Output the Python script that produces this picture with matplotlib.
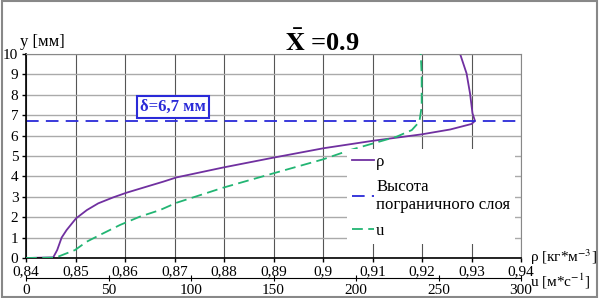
import numpy as np
import matplotlib.pyplot as plt
from matplotlib.ticker import FuncFormatter

plt.rcParams['font.family'] = ['Liberation Serif', 'DejaVu Serif']
plt.rcParams['mathtext.fontset'] = 'stix'

# density profile rho(y)
rho = [0.84, 0.8455, 0.8463, 0.8472, 0.8482, 0.8501, 0.8523, 0.8546, 0.8576, 0.8603,
       0.8644, 0.8677, 0.8704, 0.8799, 0.89, 0.9001, 0.9102, 0.9199, 0.9257, 0.93,
       0.9307, 0.9302, 0.9297, 0.929, 0.9277]
rho_y = [0, 0.03, 0.39, 1.0, 1.37, 1.94, 2.35, 2.68, 2.97, 3.2,
         3.5, 3.74, 3.95, 4.44, 4.92, 5.38, 5.75, 6.06, 6.3, 6.57,
         6.72, 7.09, 8.07, 9.05, 10.0]

# velocity profile u(y)
u = [0, 18, 29.7, 36.8, 44.8, 57, 69.1, 81.2, 91.3, 119.6, 149.9, 180.2, 196.4,
     210.5, 224.7, 233.8, 238.4, 239.8, 239.8, 239.2]
u_y = [0, 0.02, 0.39, 0.8, 1.13, 1.62, 2.03, 2.35, 2.71, 3.45, 4.15, 4.84, 5.29,
       5.62, 5.95, 6.27, 6.68, 7.42, 9.0, 10.0]

delta = 6.7
rho_ticks = np.arange(0.84, 0.9401, 0.01)
u_ticks = np.arange(0, 301, 50)
y_ticks = np.arange(0, 11, 1)

purple = '#7030a0'
green = '#22b573'
blue = '#2a2ad8'


def comma_fmt(v, pos):
    s = '%.2f' % v
    if s.endswith('0'):
        s = s[:-1]
    return s.replace('.', ',')


fig = plt.figure(figsize=(6, 2.98), dpi=100)
ax = fig.add_axes([26/600, 1 - 258/298, 495/600, 204/298])
ax.set_xlim(0.84, 0.94)
ax.set_ylim(0, 10)
ax.set_xticks(rho_ticks)
ax.set_yticks(y_ticks)
ax.xaxis.set_major_formatter(FuncFormatter(comma_fmt))
ax.tick_params(axis='both', labelsize=11, length=3, width=1, pad=2.5)
ax.grid(axis='x', color='#555555', lw=0.8)
ax.grid(axis='y', color='#aaaaaa', lw=1.0)
for s in ['top', 'right']:
    ax.spines[s].set_color('#888888')
for s in ['left', 'bottom']:
    ax.spines[s].set_linewidth(1.2)

ax.plot(rho, rho_y, color=purple, lw=1.3, label='ρ')
ax.axhline(delta, color=blue, lw=1.3, ls=(0, (7, 4)), label='Высота\nпограничного слоя')

ax2 = ax.twiny()
ax2.set_xlim(0, 300)
ax2.set_xticks(u_ticks)
ax2.xaxis.set_ticks_position('bottom')
ax2.xaxis.set_label_position('bottom')
ax2.spines['bottom'].set_position(('axes', -0.098))
for s in ['top', 'right', 'left']:
    ax2.spines[s].set_visible(False)
ax2.tick_params(axis='x', labelsize=11, direction='inout', length=5, pad=1.5)
ln_u, = ax2.plot(u, u_y, color=green, lw=1.3, ls=(0, (6, 3)), label='u')

h1, l1 = ax.get_legend_handles_labels()
leg = ax2.legend(h1 + [ln_u], l1 + ['u'], loc='lower right',
                 bbox_to_anchor=(1.005, 0.03), frameon=True, fontsize=12,
                 handlelength=1.3, handletextpad=0.15, labelspacing=0.55,
                 borderpad=0.3, fancybox=False)
leg.get_frame().set_edgecolor('none')
leg.get_frame().set_facecolor('white')
leg.get_frame().set_alpha(1)

ax.text(0.297, 0.74, 'δ=6,7 мм', transform=ax.transAxes, ha='center', va='center',
        fontsize=12, fontweight='bold', color=blue,
        bbox=dict(boxstyle='square,pad=0.2', fc='white', ec=blue, lw=1.5))

fig.text(20/600, 1 - 42/298, 'y [мм]', ha='left', va='center', fontsize=12)
fig.text(322/600, 1 - 43/298, r'$\mathbf{\bar{X}}$ =0.9', ha='center', va='center',
         fontsize=19, fontweight='bold')
fig.text(530/600, 1 - 257/298, r'ρ [кг*м$^{-3}$]', ha='left', va='center', fontsize=11)
fig.text(530/600, 1 - 281/298, r'u [м*с$^{-1}$]', ha='left', va='center', fontsize=11)

fig.patches.append(plt.Rectangle((0.003, 0.005), 0.992, 0.99, transform=fig.transFigure,
                                 fill=False, ec='#888888', lw=1.5))

fig.savefig('out.png', dpi=100)
